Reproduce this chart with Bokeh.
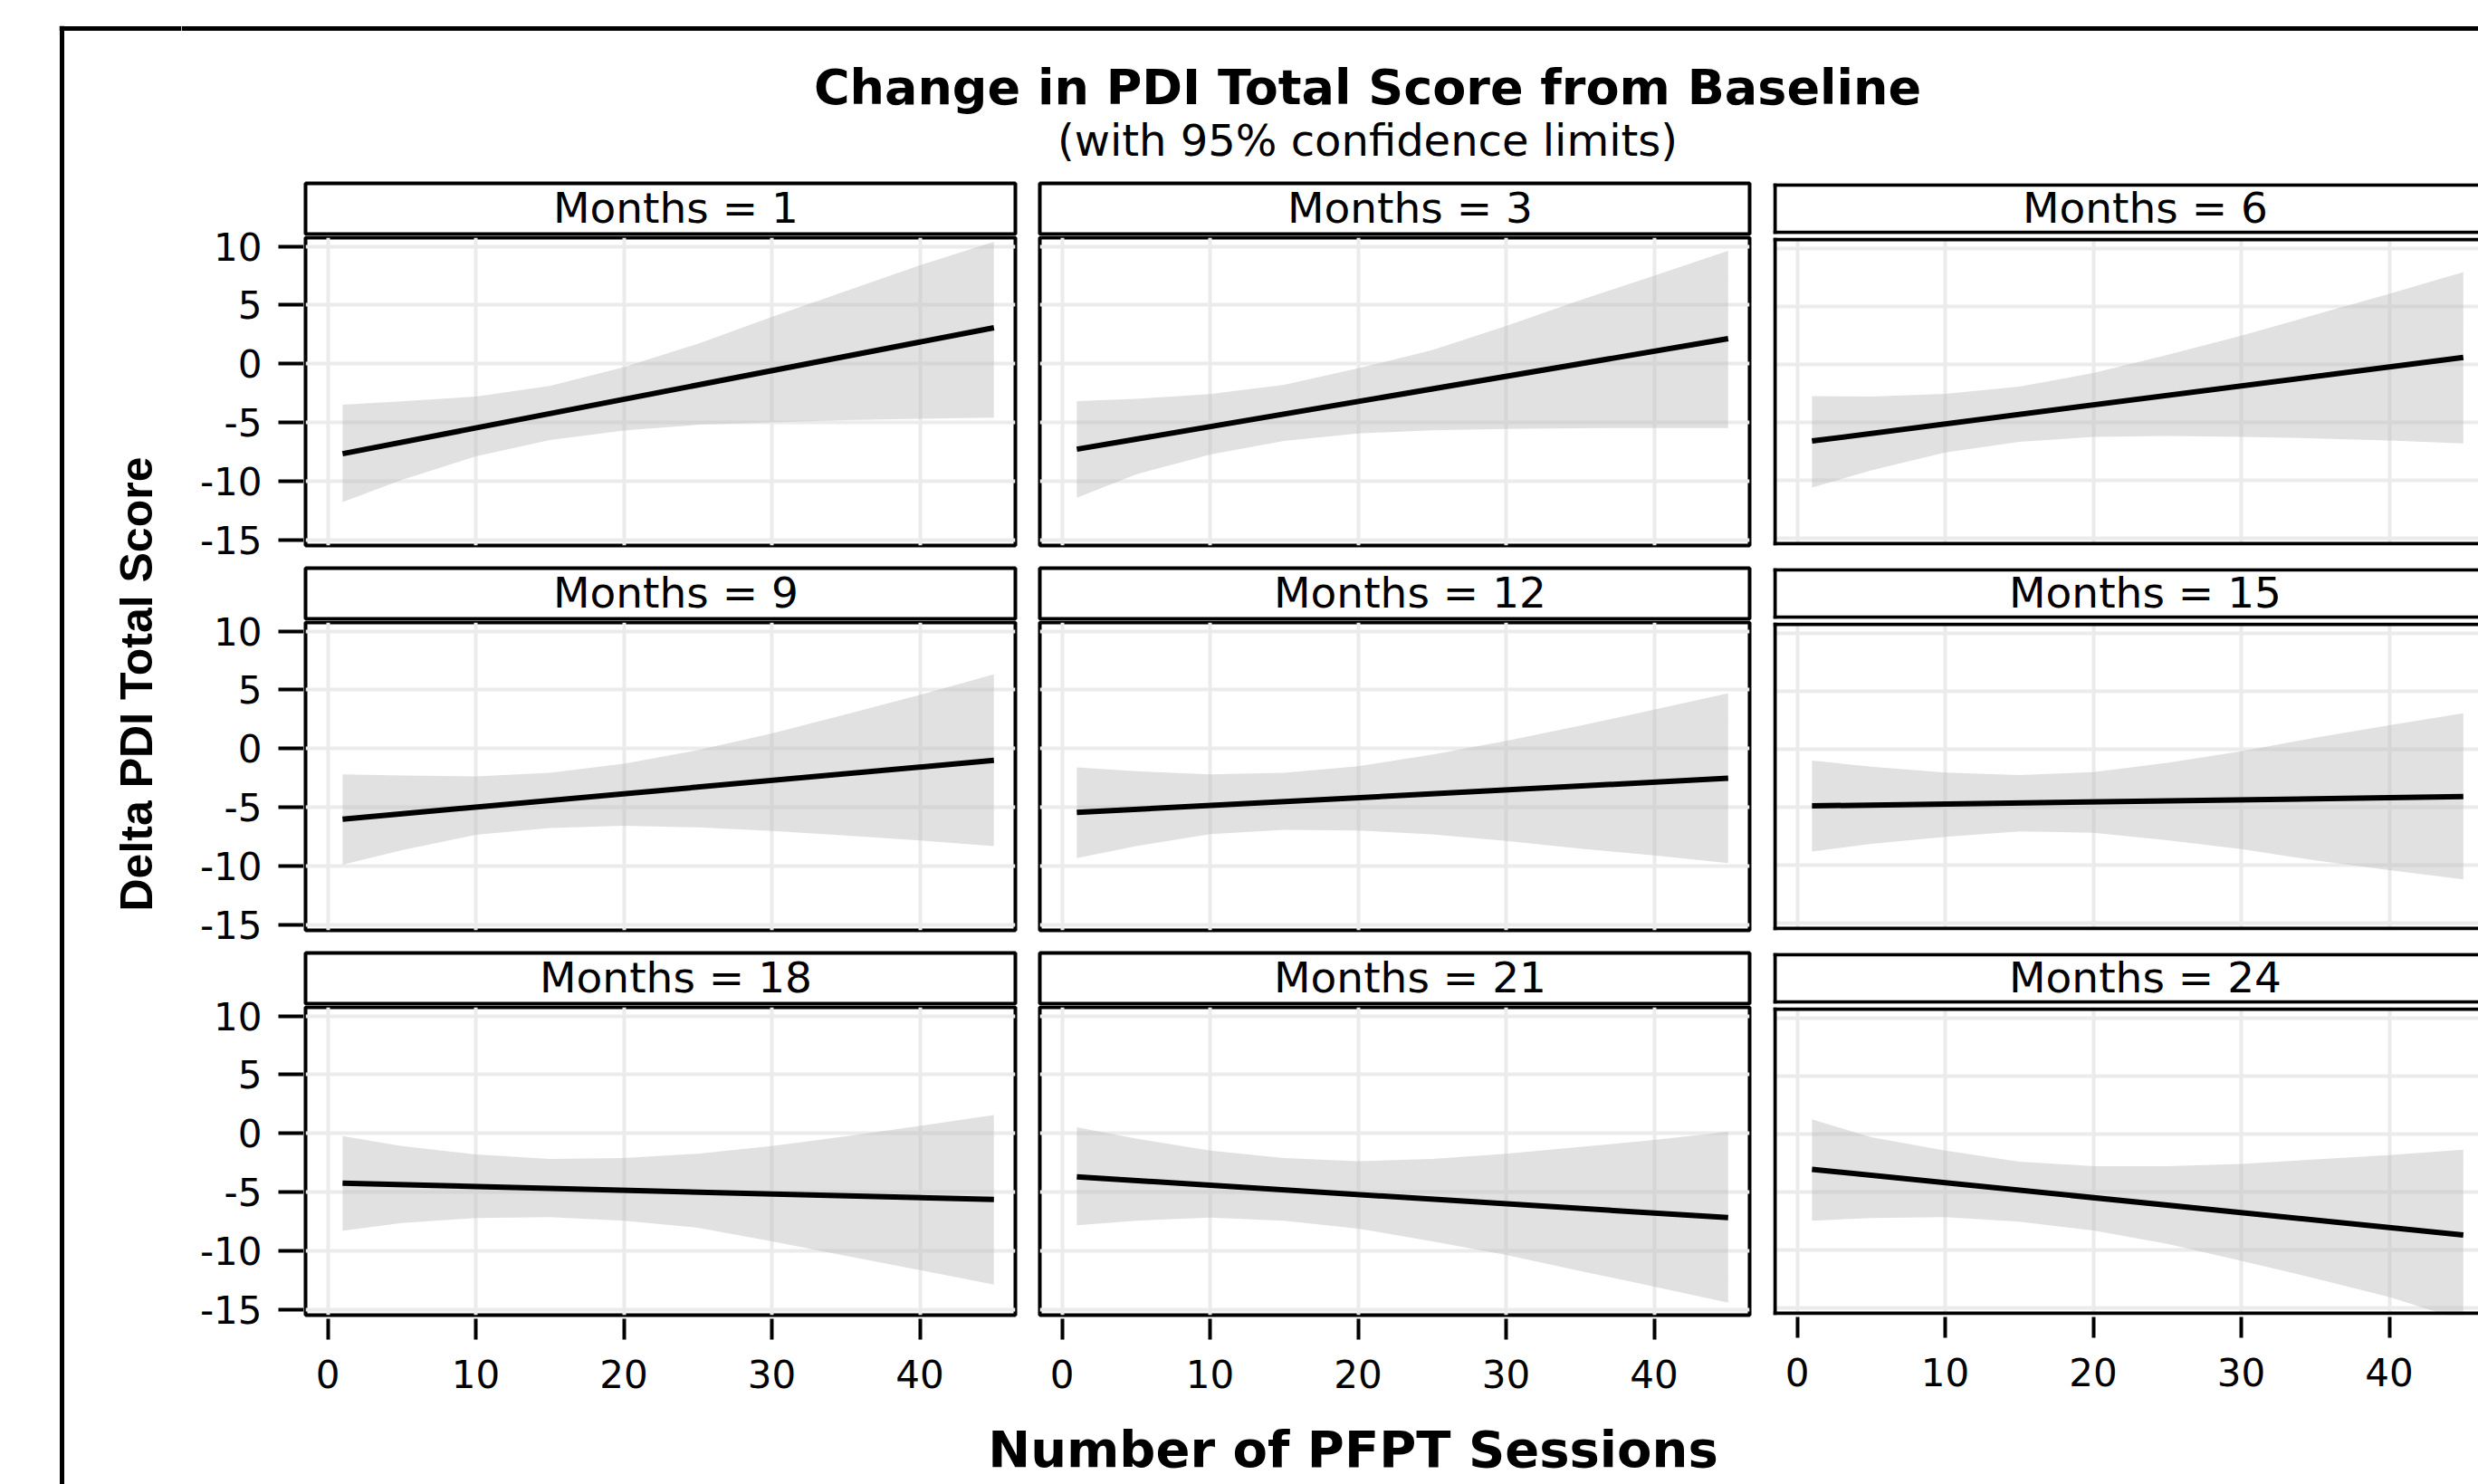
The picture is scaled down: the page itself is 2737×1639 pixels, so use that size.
import math
from bokeh.plotting import figure
from bokeh.layouts import row, column, Spacer
from bokeh.models import Range1d, LinearAxis, FixedTicker, Grid, Span, Label
from bokeh.embed import file_html
from bokeh.resources import INLINE

# ---------------- data ----------------
TITLE = "Change in PDI Total Score from Baseline"
SUBTITLE = "(with 95% confidence limits)"
X_LABEL = "Number of PFPT Sessions"
Y_LABEL = "Delta PDI Total Score"

MONTHS = [1, 3, 6, 9, 12, 15, 18, 21, 24]
X_TICKS = [0, 10, 20, 30, 40]
Y_TICKS = [-15, -10, -5, 0, 5, 10]

# fitted regression line, evaluated at the first and last session count
LINE_X = [1, 45]
LINE_START = [-7.67, -7.29, -6.64, -6.02, -5.45, -4.92, -4.25, -3.71, -3.07]
LINE_END = [3.07, 2.14, 0.57, -1.01, -2.53, -4.12, -5.64, -7.19, -8.74]

# 95% confidence limits, read at these session counts
BAND_X = [1, 5, 10, 15, 20, 25, 30, 35, 40, 45]
BAND_UPPER = [
    [-3.5, -3.2, -2.8, -1.9, -0.3, 1.7, 4.0, 6.2, 8.4, 10.4],
    [-3.18, -3.0, -2.58, -1.8, -0.39, 1.16, 3.23, 5.43, 7.5, 9.64],
    [-2.76, -2.8, -2.58, -1.94, -0.78, 0.78, 2.45, 4.26, 6.07, 7.93],
    [-2.2, -2.3, -2.38, -2.07, -1.29, -0.13, 1.29, 2.92, 4.57, 6.33],
    [-1.6, -1.94, -2.2, -2.07, -1.5, -0.52, 0.65, 1.94, 3.31, 4.7],
    [-1.0, -1.54, -2.04, -2.25, -2.0, -1.2, -0.2, 0.96, 2.04, 3.08],
    [-0.23, -1.08, -1.8, -2.19, -2.11, -1.73, -1.08, -0.26, 0.64, 1.57],
    [0.52, -0.44, -1.47, -2.11, -2.37, -2.19, -1.73, -1.16, -0.57, 0.13],
    [1.23, -0.31, -1.46, -2.41, -2.8, -2.8, -2.6, -2.22, -1.84, -1.38],
]
BAND_LOWER = [
    [-11.8, -9.9, -7.9, -6.5, -5.7, -5.2, -5.0, -4.8, -4.7, -4.6],
    [-11.42, -9.43, -7.75, -6.59, -5.94, -5.68, -5.56, -5.5, -5.48, -5.48],
    [-10.65, -9.17, -7.62, -6.72, -6.28, -6.2, -6.28, -6.41, -6.59, -6.85],
    [-9.9, -8.66, -7.36, -6.77, -6.59, -6.72, -7.03, -7.42, -7.83, -8.32],
    [-9.35, -8.32, -7.29, -6.93, -6.98, -7.31, -7.88, -8.53, -9.12, -9.77],
    [-8.85, -8.19, -7.58, -7.12, -7.23, -7.88, -8.65, -9.62, -10.46, -11.27],
    [-8.3, -7.65, -7.22, -7.14, -7.45, -8.04, -9.2, -10.44, -11.65, -12.89],
    [-7.84, -7.45, -7.19, -7.45, -8.12, -9.2, -10.36, -11.73, -13.07, -14.43],
    [-7.51, -7.28, -7.2, -7.59, -8.35, -9.5, -10.96, -12.49, -14.1, -16.1],
]

# ---------------- layout / style ----------------
X_RANGE = (-1.5, 46.45)
Y_RANGE = (-15.5, 10.75)
FRAME_W = 784
FRAME_H = 340
PX_X = FRAME_W / (X_RANGE[1] - X_RANGE[0])
PX_Y = FRAME_H / (Y_RANGE[1] - Y_RANGE[0])
COL_W = [799, 812, 791]
COL_BL = [2, 14, 12]
COL_BR = [13, 14, 0]
EXT = 2          # col 3 is cut by the page edge: its frame reaches 2px past the border lines
GRID_COLOR = "#EBEBEB"
BAND_COLOR = "#BDBDBD"
FONT = "DejaVu Sans"
TICK_FONT_SIZE = "42px"
BORDER_W = 4

LEFT_W = 200     # outer frame line + y-axis title
AXIS_W = 135     # y tick labels column
TOTAL_H = 1639
HEADER_H = 190
FOOTER_H = 79
STRIP_TOP = [202, 627, 1052]


def base_fig(**kw):
    p = figure(output_backend="svg", toolbar_location=None, tools="",
               x_axis_location=None, y_axis_location=None, **kw)
    p.center = [m for m in p.center if not isinstance(m, Grid)]
    p.background_fill_color = "white"
    p.border_fill_color = "white"
    p.outline_line_color = None
    return p


def make_axis(ticks, tick_in, tick_out, standoff):
    return LinearAxis(ticker=FixedTicker(ticks=ticks), axis_line_color=None,
                      major_label_overrides={t: str(t) for t in ticks},
                      major_tick_line_color="black", major_tick_line_width=4,
                      major_tick_in=tick_in, major_tick_out=tick_out,
                      minor_tick_line_color=None, major_label_standoff=standoff,
                      major_label_text_font=FONT, major_label_text_font_size=TICK_FONT_SIZE,
                      major_label_text_color="black")


def make_panel(i, r, c):
    fw = COL_W[c] - COL_BL[c] - COL_BR[c]
    bottom = 108 if r == 2 else 13
    if c < 2:
        xr = Range1d(X_RANGE[0], X_RANGE[0] + fw / PX_X)
        yr = Range1d(*Y_RANGE)
        top, bot = 2, bottom
    else:
        x0 = X_RANGE[0] - EXT / PX_X
        xr = Range1d(x0, x0 + fw / PX_X)
        yr = Range1d(Y_RANGE[0] - EXT / PX_Y, Y_RANGE[1] + EXT / PX_Y)
        top, bot = 2 - EXT, bottom - EXT
    p = base_fig(width=COL_W[c], height=top + FRAME_H + 2 * (2 - top) + bot,
                 x_range=xr, y_range=yr,
                 min_border_left=COL_BL[c], min_border_right=COL_BR[c],
                 min_border_top=top, min_border_bottom=bot)
    p.add_layout(Grid(dimension=0, ticker=FixedTicker(ticks=X_TICKS),
                      grid_line_color=GRID_COLOR, grid_line_width=4))
    p.add_layout(Grid(dimension=1, ticker=FixedTicker(ticks=Y_TICKS),
                      grid_line_color=GRID_COLOR, grid_line_width=4))
    p.varea(x=BAND_X, y1=BAND_LOWER[i], y2=BAND_UPPER[i],
            fill_color=BAND_COLOR, fill_alpha=0.45)
    p.line(x=LINE_X, y=[LINE_START[i], LINE_END[i]], line_color="black", line_width=6)
    if c < 2:
        p.outline_line_color = "black"
        p.outline_line_width = BORDER_W
    else:
        for loc, dim in [(X_RANGE[0], "height"), (Y_RANGE[0], "width"), (Y_RANGE[1], "width")]:
            p.add_layout(Span(location=loc, dimension=dim, line_color="black",
                              line_width=BORDER_W))
    if r == 2:
        ext = EXT if c == 2 else 0
        p.add_layout(make_axis(X_TICKS, -4 + ext, 27 - ext, 22), "below")
    return p


def make_strip(i, c):
    fw = COL_W[c] - COL_BL[c] - COL_BR[c]
    if c < 2:
        s = base_fig(width=COL_W[c], height=70, x_range=Range1d(0, fw), y_range=Range1d(56, 0),
                     min_border_left=COL_BL[c], min_border_right=COL_BR[c],
                     min_border_top=12, min_border_bottom=2)
        s.outline_line_color = "black"
        s.outline_line_width = BORDER_W
    else:
        s = base_fig(width=COL_W[c], height=70, x_range=Range1d(-EXT, fw - EXT),
                     y_range=Range1d(56 + EXT, -EXT),
                     min_border_left=COL_BL[c], min_border_right=COL_BR[c],
                     min_border_top=12 - EXT, min_border_bottom=2 - EXT)
        for loc, dim in [(0, "height"), (0, "width"), (56, "width")]:
            s.add_layout(Span(location=loc, dimension=dim, line_color="black",
                              line_width=BORDER_W))
    s.add_layout(Label(x=409, y=27, text=f"Months = {MONTHS[i]}", text_align="center",
                       text_baseline="middle", text_font=FONT,
                       text_font_size="47px", text_color="black"))
    return s


def make_yaxis_fig():
    # a 1px-wide frame at the left edge of the panels, holding the y axis of one row
    a = base_fig(width=AXIS_W, height=20 + FRAME_H + 20, x_range=Range1d(0, 1),
                 y_range=Range1d(*Y_RANGE), min_border_left=AXIS_W - 1, min_border_right=0,
                 min_border_top=20, min_border_bottom=20)
    a.add_layout(make_axis(Y_TICKS, 1, 27, 18), "left")
    return a


strips, panels = [], []
for r in range(3):
    for c in range(3):
        i = r * 3 + c
        strips.append(make_strip(i, c))
        panels.append(make_panel(i, r, c))

RIGHT_W = sum(COL_W)

# y-axis column (starts below the header): one axis figure beside each row of panels
axis_children = []
y_cursor = HEADER_H
for r in range(3):
    y_top = STRIP_TOP[r] + 40
    axis_children.append(Spacer(width=AXIS_W, height=y_top - y_cursor))
    axis_children.append(make_yaxis_fig())
    y_cursor = y_top + 20 + FRAME_H + 20
axis_children.append(Spacer(width=AXIS_W, height=TOTAL_H - y_cursor))

header = base_fig(width=AXIS_W + RIGHT_W, height=HEADER_H, x_range=Range1d(0, AXIS_W + RIGHT_W),
                  y_range=Range1d(HEADER_H, 0), min_border=0)
header.add_layout(Span(location=31, dimension="width", line_color="black", line_width=5))
header.add_layout(Label(x=1310, y=96, text=TITLE, text_align="center",
                        text_baseline="middle", text_font=FONT, text_font_style="bold",
                        text_font_size="54px", text_color="black"))
header.add_layout(Label(x=1310, y=154, text=SUBTITLE, text_align="center",
                        text_baseline="middle", text_font=FONT,
                        text_font_size="48px", text_color="black"))

footer = base_fig(width=RIGHT_W, height=FOOTER_H, x_range=Range1d(0, RIGHT_W),
                  y_range=Range1d(FOOTER_H, 0), min_border=0)
footer.add_layout(Label(x=1294 - AXIS_W, y=40, text=X_LABEL, text_align="center",
                        text_baseline="middle", text_font=FONT, text_font_style="bold",
                        text_font_size="56px", text_color="black"))

left = base_fig(width=LEFT_W, height=TOTAL_H, x_range=Range1d(65, LEFT_W),
                y_range=Range1d(TOTAL_H, 28),
                min_border_left=65, min_border_right=0, min_border_top=28, min_border_bottom=0)
left.add_layout(Span(location=68, dimension="height", line_color="black", line_width=5))
left.add_layout(Span(location=31, dimension="width", line_color="black", line_width=5))
left.add_layout(Label(x=150, y=755, text=Y_LABEL, angle=math.pi / 2, text_align="center",
                      text_baseline="middle", text_font="Liberation Sans", text_font_style="bold",
                      text_font_size="50px", text_color="black"))

grid_rows = []
for r in range(3):
    grid_rows.append(row(*strips[r * 3:(r + 1) * 3]))
    grid_rows.append(row(*panels[r * 3:(r + 1) * 3]))

body = row(column(*axis_children), column(*grid_rows, footer))
layout = row(left, column(header, body))

open("out.html", "w").write(file_html(layout, INLINE, title="Change in PDI Total Score"))
